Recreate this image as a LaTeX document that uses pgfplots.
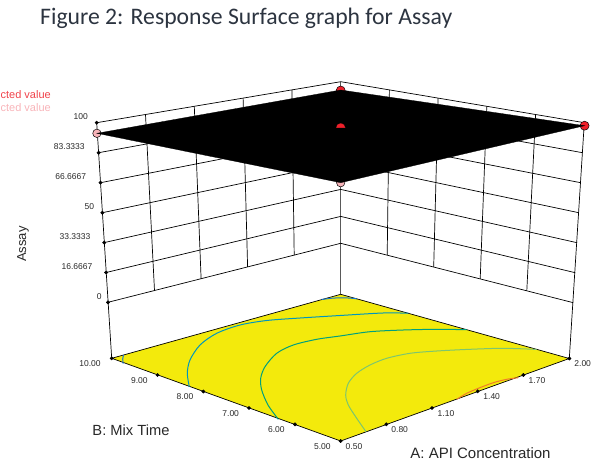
\documentclass[border=0pt]{standalone}
\usepackage{fontspec}
\setmainfont{Liberation Sans}
\newfontfamily\calibri{Carlito}
\usepackage{pgfplots}
\pgfplotsset{compat=1.18}
\usetikzlibrary{plotmarks}
\definecolor{floorY}{RGB}{243,234,12}
\definecolor{cBlue}{RGB}{25,120,205}
\definecolor{cCyan}{RGB}{0,150,190}
\definecolor{cTeal}{RGB}{0,160,125}
\definecolor{cLight}{RGB}{125,198,110}
\definecolor{cOrange}{RGB}{240,125,40}
\definecolor{dp}{RGB}{238,32,42}
\definecolor{dpl}{RGB}{248,180,185}
\definecolor{txt}{RGB}{40,40,40}
\definecolor{ttl}{RGB}{44,52,64}
\newcommand{\tl}[3]{\node[text=txt,font=\fontsize{8.5}{10}\selectfont,inner sep=0pt] at (axis cs:#1,#2) {#3};}
\begin{document}
\begin{tikzpicture}
\path[use as bounding box] (0,0) rectangle (603pt,463pt);
\begin{axis}[
  at={(0,0)},anchor=south west,
  scale only axis,width=603pt,height=463pt,
  xmin=0,xmax=603,ymin=0,ymax=463,y dir=reverse,
  hide axis,clip=true,clip mode=individual,
  wall/.style={black,line width=0.7pt,no markers},
  contour/.style={line width=1pt,no markers,smooth,tension=0.5},
]
% floor
\addplot[fill=floorY,draw=black,line width=0.7pt] coordinates {(111.7,358.3)(340.7,294.3)(569.3,358.5)(340.7,441)} --cycle;
% corner verticals
\addplot[wall] coordinates {(96.7,122.7)(111.7,358.3)};
\addplot[wall,gray!70!black] coordinates {(340.7,81.7)(340.7,294.3)};
\addplot[wall] coordinates {(584.3,122.7)(569.3,358.5)};
% horizontal wall lines, left and right
\addplot[wall] coordinates {(96.7,122.7)(340.7,81.7)(584.3,122.7)};
\addplot[wall] coordinates {(98.6,152.7)(340.7,108.6)(582.5,152.7)};
\addplot[wall] coordinates {(100.5,182.7)(340.7,135.6)(580.6,182.7)};
\addplot[wall] coordinates {(102.4,212.7)(340.7,162.5)(578.8,212.7)};
\addplot[wall] coordinates {(104.2,242.6)(340.7,189.4)(577,242.7)};
\addplot[wall] coordinates {(106.1,272.5)(340.7,216.4)(575.2,272.7)};
\addplot[wall] coordinates {(108,302.3)(340.7,243.3)(573.3,302.7)};
% vertical wall lines
\addplot[wall] coordinates {(145.5,114.5)(154.5,290.5)};
\addplot[wall] coordinates {(194.3,106.3)(201.1,278.7)};
\addplot[wall] coordinates {(243.1,98.1)(247.6,266.9)};
\addplot[wall] coordinates {(291.9,89.9)(294.2,255.1)};
\addplot[wall] coordinates {(389.4,89.9)(387.2,255.2)};
\addplot[wall] coordinates {(438.1,98.1)(433.7,267)};
\addplot[wall] coordinates {(486.8,106.3)(480.2,278.9)};
\addplot[wall] coordinates {(535.6,114.5)(526.8,290.8)};
% contours on the floor
\addplot[contour,cBlue] coordinates {(123.6,354.9)(122.7,359)(123.2,363.6)};
\addplot[contour,cBlue] coordinates {(321.7,299.5)(332,298.2)(341,297.8)(350,298.1)(357,298.9)};
\addplot[contour,cCyan] coordinates {(189.3,386.7)(187.3,373.3)(190,360)(200,345)(216.7,333.3)(240,325)(266.7,320.5)(300,318)(340,315.5)(383,313)(408.3,313.2)};
\addplot[contour,cTeal] coordinates {(278.3,419.3)(268,405)(261.7,390)(260.7,378.3)(265,366.7)(276.7,353.3)(293.3,345)(316.7,339.3)(340,336)(370,331.7)(403.3,330)(436.7,329.3)(466.7,329.7)};
\addplot[contour,cLight] coordinates {(366,431.7)(356.7,418.3)(348.3,405)(345.7,395)(348.3,383.3)(356.7,373.3)(370,365)(386.7,358.3)(410,353.3)(436.7,351)(470,349.3)(503.3,348.3)(536.7,349.4)};
\addplot[contour,cOrange] coordinates {(456.7,399.3)(466.7,393.3)(478.3,388.3)(493.3,382.7)(506.7,379.3)(518.3,377.7)};
% tick dots
\addplot[only marks,mark=*,mark size=1.7pt,black] coordinates {
 (96.7,122.7)(98.6,152.7)(100.5,182.7)(102.4,212.7)(104.2,242.6)(106.1,272.5)(108,302.3)
 (111.7,358.3)(157.5,375)(203.3,391.5)(249,408)(295,424.3)(340.7,441)
 (386.3,424.3)(432,408)(477.7,391.3)(523.3,375)(569.3,358.5)};
% design points under the surface
\addplot[only marks,mark=*,mark size=4.2pt,draw=black,fill=dpl,line width=0.5pt] coordinates {(96.9,133.3)(340.7,182.7)};
\addplot[only marks,mark=*,mark size=4.5pt,draw=black,fill=dp,line width=0.5pt] coordinates {(340.7,90.5)(584.6,125.7)};
% response surface
\addplot[fill=black,draw=black,line width=0.3pt] coordinates {(96.9,133.3)(340.7,90)(584.6,125.7)(340.7,182.7)} --cycle;
% design point on the surface
\addplot[only marks,mark=halfcircle*,mark size=4.7pt,draw=black,fill=dp,line width=0.1pt,mark options={mark color=black}] coordinates {(340.7,127.8)};
% z tick labels
\tl{80.7}{117}{100}
\tl{69.3}{147}{83.3333}
\tl{70.7}{177}{66.6667}
\tl{89.3}{207}{50}
\tl{75}{237}{33.3333}
\tl{77}{267}{16.6667}
\tl{99.3}{297}{0}
% B ticks
\tl{90}{363.7}{10.00}
\tl{139.3}{380.7}{9.00}
\tl{185}{397}{8.00}
\tl{230.7}{414}{7.00}
\tl{276.3}{430}{6.00}
\tl{322.3}{446.7}{5.00}
% A ticks
\tl{354}{446.7}{0.50}
\tl{399.7}{430}{0.80}
\tl{446}{414}{1.10}
\tl{491.7}{397}{1.40}
\tl{537}{380.7}{1.70}
\tl{582.7}{363.7}{2.00}
% axis titles
\node[text=txt,font=\fontsize{14.7}{16}\selectfont,inner sep=0pt] at (axis cs:131,430) {B: Mix Time};
\node[text=txt,font=\fontsize{15}{16}\selectfont,inner sep=0pt] at (axis cs:480.5,452.7) {A: API Concentration};
\node[text=txt,font=\fontsize{13}{14}\selectfont,inner sep=0pt,rotate=90] at (axis cs:23,244) {Assay};
% legend fragment
\node[text=dp!85,font=\fontsize{11}{12}\selectfont,inner sep=0pt,anchor=east] at (axis cs:51,95) {cted value};
\node[text=dpl,font=\fontsize{11}{12}\selectfont,inner sep=0pt,anchor=east] at (axis cs:51,108) {cted value};
% title
\node[text=ttl,font=\calibri\fontsize{23.7}{26}\selectfont,inner sep=0pt,anchor=west] at (axis cs:40,18) {Figure 2: Response Surface graph for Assay};
\end{axis}
\end{tikzpicture}
\end{document}
